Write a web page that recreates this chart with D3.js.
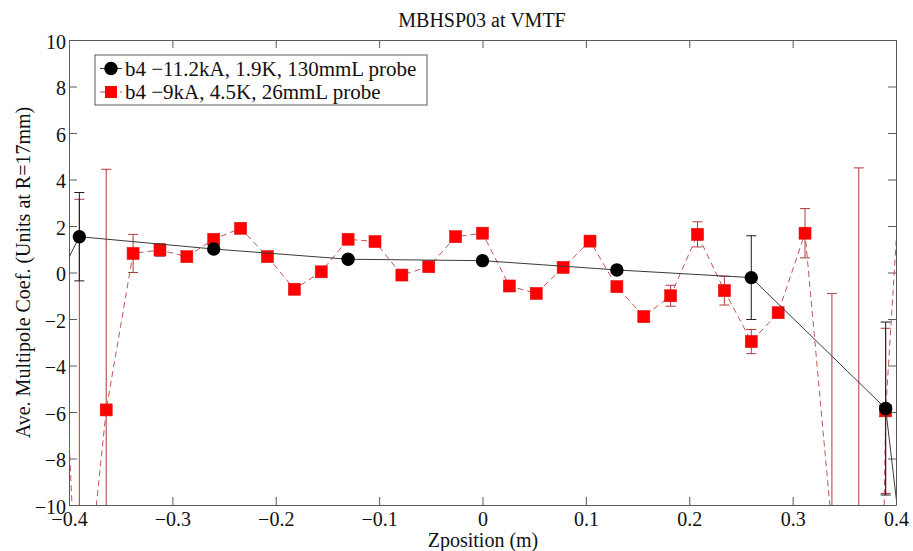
<!DOCTYPE html>
<html>
<head>
<meta charset="utf-8">
<script src="https://cdn.jsdelivr.net/npm/d3@7"></script>
<style>
  html, body { margin: 0; padding: 0; background: #fff; }
  svg { display: block; }
  text { font-family: "Liberation Serif", "Times New Roman", serif; fill: #111; }
</style>
</head>
<body>
<svg id="chart" width="913" height="551"></svg>
<script>
// b4 measured with the 130 mm probe (-11.2 kA, 1.9 K)
const longZ   = [-0.52, -0.39, -0.26, -0.13, 0.00, 0.13, 0.26, 0.39, 0.52];
const longB4  = [-10.0, 1.54, 1.01, 0.57, 0.51, 0.11, -0.22, -5.85, -55.0];
const longErr = [0, 1.90, 0.10, 0.10, 0.10, 0.10, 1.80, 3.72, 0];

// b4 measured with the 26 mm probe (-9 kA, 4.5 K)
const shortZ = [-0.416, -0.390, -0.364, -0.338, -0.312, -0.286, -0.260, -0.234, -0.208,
                -0.182, -0.156, -0.130, -0.104, -0.078, -0.052, -0.026, 0.000,
                 0.026,  0.052,  0.078,  0.104,  0.130,  0.156,  0.182,  0.208,
                 0.234,  0.260,  0.286,  0.312,  0.338,  0.364,  0.390,  0.416];
const shortB4 = [8.9, -17.1, -5.91, 0.82, 0.97, 0.68, 1.43, 1.90, 0.68,
                 -0.72, 0.03, 1.43, 1.33, -0.11, 0.25, 1.54, 1.69,
                 -0.58, -0.90, 0.22, 1.35, -0.61, -1.90, -1.00, 1.64,
                 -0.78, -2.97, -1.73, 1.69, -11.0, -80.0, -5.95, 12.7];
const shortErr = [0, 20.25, 10.35, 0.82, 0.27, 0.20, 0.20, 0.15, 0.15,
                  0.15, 0.15, 0.15, 0.15, 0.15, 0.15, 0.15, 0.15,
                  0.15, 0.15, 0.15, 0.15, 0.20, 0.20, 0.45, 0.54,
                  0.62, 0.52, 0.20, 1.06, 10.1, 84.5, 3.55, 0];

const xTicks = [-0.4, -0.3, -0.2, -0.1, 0, 0.1, 0.2, 0.3, 0.4];
const xTickLabels = ["\u22120.4", "\u22120.3", "\u22120.2", "\u22120.1", "0", "0.1", "0.2", "0.3", "0.4"];
const yTicks = [-10, -8, -6, -4, -2, 0, 2, 4, 6, 8, 10];
const yTickLabels = ["\u221210", "\u22128", "\u22126", "\u22124", "\u22122", "0", "2", "4", "6", "8", "10"];

const legendLabels = ["b4 \u221211.2kA, 1.9K, 130mmL probe", "b4 \u22129kA, 4.5K, 26mmL probe"];
const titleText = "MBHSP03 at VMTF";
const xTitle = "Zposition (m)";
const yTitle = "Ave. Multipole Coef. (Units at R=17mm)";

const svg = d3.select("#chart");
const plot = { left: 69, right: 896, top: 40, bottom: 505 };

const x = d3.scaleLinear().domain([-0.4, 0.4]).range([plot.left, plot.right]);
const y = d3.scaleLinear().domain([-10, 10]).range([plot.bottom, plot.top]);

svg.append("defs").append("clipPath").attr("id", "plotClip")
  .append("rect")
  .attr("x", plot.left).attr("y", plot.top)
  .attr("width", plot.right - plot.left).attr("height", plot.bottom - plot.top);

const axisColor = "#5a5a5a";
const tickLen = 8;

// axes box with inward ticks on all four sides
function styleAxis(g) {
  g.selectAll(".domain").attr("stroke", axisColor).attr("stroke-width", 1);
  g.selectAll(".tick line").attr("stroke", axisColor).attr("stroke-width", 1);
  g.selectAll("text").attr("font-size", 20).attr("fill", "#111")
    .attr("font-family", "Liberation Serif, Times New Roman, serif");
}

svg.append("g")
  .attr("transform", `translate(0,${plot.bottom})`)
  .call(d3.axisBottom(x).tickValues(xTicks)
    .tickFormat((d, i) => xTickLabels[i])
    .tickSizeInner(-tickLen).tickSizeOuter(0).tickPadding(7))
  .call(styleAxis);

svg.append("g")
  .attr("transform", `translate(0,${plot.top})`)
  .call(d3.axisTop(x).tickValues(xTicks).tickFormat("")
    .tickSizeInner(-tickLen).tickSizeOuter(0))
  .call(styleAxis);

svg.append("g")
  .attr("transform", `translate(${plot.left},0)`)
  .call(d3.axisLeft(y).tickValues(yTicks)
    .tickFormat((d, i) => yTickLabels[i])
    .tickSizeInner(-tickLen).tickSizeOuter(0).tickPadding(3))
  .call(styleAxis)
  .call(g => g.selectAll("text").attr("dy", "0.4em"));

svg.append("g")
  .attr("transform", `translate(${plot.right},0)`)
  .call(d3.axisRight(y).tickValues(yTicks).tickFormat("")
    .tickSizeInner(-tickLen).tickSizeOuter(0))
  .call(styleAxis);

const dataLayer = svg.append("g").attr("clip-path", "url(#plotClip)");

// draws one errorbar series: bars with caps, connecting line, markers
function drawSeries(zs, vals, errs, opt) {
  const pts = zs.map((z, i) => ({ z, v: vals[i], e: errs[i] }));
  const g = dataLayer.append("g");
  const capW = 5;
  const eb = g.append("g").attr("stroke", opt.errColor).attr("stroke-width", 1).attr("fill", "none");
  pts.filter(p => p.e > 0).forEach(p => {
    const cx = x(p.z), y1 = y(p.v + p.e), y2 = y(p.v - p.e);
    eb.append("line").attr("x1", cx).attr("x2", cx).attr("y1", y1).attr("y2", y2);
    eb.append("line").attr("x1", cx - capW).attr("x2", cx + capW).attr("y1", y1).attr("y2", y1);
    eb.append("line").attr("x1", cx - capW).attr("x2", cx + capW).attr("y1", y2).attr("y2", y2);
  });
  g.append("path")
    .datum(pts)
    .attr("fill", "none")
    .attr("stroke", opt.lineColor)
    .attr("stroke-width", 1)
    .attr("stroke-dasharray", opt.dash || null)
    .attr("d", d3.line().x(p => x(p.z)).y(p => y(p.v)));
  const m = g.append("g");
  if (opt.marker === "square") {
    m.selectAll("rect").data(pts).join("rect")
      .attr("x", p => x(p.z) - 6).attr("y", p => y(p.v) - 6)
      .attr("width", 12).attr("height", 12)
      .attr("fill", opt.markerColor).attr("stroke", "#e01010").attr("stroke-width", 0.6);
  } else {
    m.selectAll("circle").data(pts).join("circle")
      .attr("cx", p => x(p.z)).attr("cy", p => y(p.v)).attr("r", 6.7)
      .attr("fill", opt.markerColor);
  }
}

drawSeries(shortZ, shortB4, shortErr,
  { errColor: "#b03a3a", lineColor: "#c25555", dash: "6,4", marker: "square", markerColor: "#ff0000" });
drawSeries(longZ, longB4, longErr,
  { errColor: "#1a1a1a", lineColor: "#3a3a3a", marker: "circle", markerColor: "#000000" });

// legend
const leg = svg.append("g");
leg.append("rect").attr("x", 95).attr("y", 55).attr("width", 332).attr("height", 50)
  .attr("fill", "#fff").attr("stroke", axisColor).attr("stroke-width", 1);
const rows = [
  { yy: 68.5, color: "#3a3a3a", dash: null, marker: "circle", fill: "#000" },
  { yy: 92, color: "#c25555", dash: "6,4", marker: "square", fill: "#ff0000" }
];
rows.forEach((r, i) => {
  leg.append("line").attr("x1", 100).attr("x2", 122).attr("y1", r.yy).attr("y2", r.yy)
    .attr("stroke", r.color).attr("stroke-width", 1).attr("stroke-dasharray", r.dash);
  if (r.marker === "circle") {
    leg.append("circle").attr("cx", 111).attr("cy", r.yy).attr("r", 6.7).attr("fill", r.fill);
  } else {
    leg.append("rect").attr("x", 105).attr("y", r.yy - 6).attr("width", 12).attr("height", 12)
      .attr("fill", r.fill);
  }
  leg.append("text").attr("x", 125).attr("y", r.yy + 7).attr("font-size", 21)
    .text(legendLabels[i]);
});

// titles
svg.append("text").attr("x", 482).attr("y", 27).attr("text-anchor", "middle")
  .attr("font-size", 20).text(titleText);
svg.append("text").attr("x", 483).attr("y", 547).attr("text-anchor", "middle")
  .attr("font-size", 20).text(xTitle);
svg.append("text")
  .attr("transform", `translate(30,${(plot.top + plot.bottom) / 2}) rotate(-90)`)
  .attr("text-anchor", "middle").attr("font-size", 20).text(yTitle);
</script>
</body>
</html>
